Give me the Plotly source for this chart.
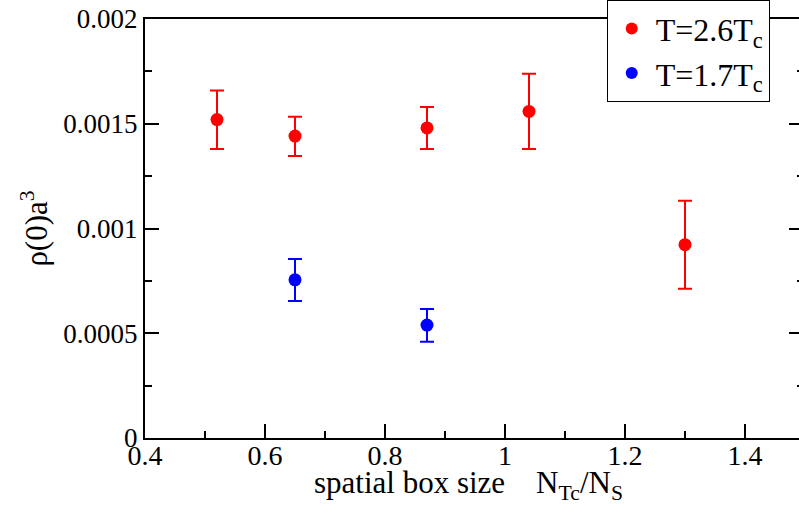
import plotly.graph_objects as go

# data
red_x = [0.52, 0.65, 0.87, 1.04, 1.30]
red_y = [0.001520, 0.001441, 0.001480, 0.001559, 0.000923]
red_err_plus = [0.000139, 0.000093, 0.000100, 0.000180, 0.000210]
red_err_minus = [0.000141, 0.000095, 0.000101, 0.000180, 0.000211]

blue_x = [0.65, 0.87]
blue_y = [0.000755, 0.000539]
blue_err_plus = [0.000100, 0.000077]
blue_err_minus = [0.000101, 0.000079]

x_ticks = [0.4, 0.6, 0.8, 1.0, 1.2, 1.4]
x_tick_labels = ["0.4", "0.6", "0.8", "1", "1.2", "1.4"]
y_ticks = [0, 0.0005, 0.001, 0.0015, 0.002]
y_tick_labels = ["0", "0.0005", "0.001", "0.0015", "0.002"]

x_title = "spatial box size    N<sub>Tc</sub>/N<sub>S</sub>"
y_title = "ρ(0)a<sup>3</sup>"

FONT = "Liberation Serif"

fig = go.Figure()
fig.add_trace(go.Scatter(
    x=red_x, y=red_y, mode="markers", name="T=2.6T<sub>c</sub>",
    marker=dict(color="#ff0000", size=13),
    error_y=dict(type="data", symmetric=False, array=red_err_plus,
                 arrayminus=red_err_minus, color="#ff0000", thickness=2, width=7),
))
fig.add_trace(go.Scatter(
    x=blue_x, y=blue_y, mode="markers", name="T=1.7T<sub>c</sub>",
    marker=dict(color="#0000ff", size=13),
    error_y=dict(type="data", symmetric=False, array=blue_err_plus,
                 arrayminus=blue_err_minus, color="#0000ff", thickness=2, width=7),
))
fig.add_trace(go.Scatter(x=[None], y=[None], yaxis="y2", showlegend=False, hoverinfo="skip"))

fig.update_layout(
    template="none",
    width=799, height=516,
    margin=dict(l=145, r=0, t=16, b=78),
    plot_bgcolor="white", paper_bgcolor="white",
    font=dict(family=FONT, color="black", size=27),
    showlegend=True,
    legend=dict(
        x=0.706, y=1.045, xanchor="left", yanchor="top",
        bgcolor="white", bordercolor="black", borderwidth=1,
        font=dict(family=FONT, size=32, color="black"),
        itemsizing="constant", tracegroupgap=0, itemwidth=38,
    ),
    xaxis=dict(
        range=[0.4, 1.49], tickmode="array", tickvals=x_ticks, ticktext=x_tick_labels,
        ticks="inside", ticklen=14, tickwidth=2, tickcolor="black",
        showline=True, linewidth=2, linecolor="black", mirror=True,
        showgrid=False, zeroline=False,
        tickfont=dict(family=FONT, size=28), ticklabelstandoff=-9,
        minor=dict(ticks="inside", ticklen=7, tickwidth=2, tickcolor="black", dtick=0.1, showgrid=False),
    ),
    yaxis=dict(
        range=[0, 0.002], tickmode="array", tickvals=y_ticks, ticktext=y_tick_labels,
        ticks="inside", ticklen=14, tickwidth=2, tickcolor="black",
        showline=True, linewidth=2, linecolor="black", mirror=False,
        showgrid=False, zeroline=False,
        tickfont=dict(family=FONT, size=27),
        minor=dict(ticks="inside", ticklen=7, tickwidth=2, tickcolor="black", dtick=0.00025, showgrid=False),
        title=dict(text=y_title, font=dict(family=FONT, size=31), standoff=6),
    ),
    yaxis2=dict(
        overlaying="y", side="right", matches="y", range=[0, 0.002],
        tickmode="array", tickvals=y_ticks, showticklabels=False,
        ticks="inside", ticklen=10, tickwidth=2, tickcolor="black",
        showline=False, showgrid=False, zeroline=False,
        minor=dict(ticks="inside", ticklen=2, tickwidth=2, tickcolor="black", dtick=0.00025, showgrid=False),
    ),
    annotations=[dict(
        text=x_title, xref="paper", yref="paper", x=0.495, y=-0.06,
        xanchor="center", yanchor="top", showarrow=False,
        font=dict(family=FONT, size=31, color="black"),
    )],
)

fig.write_html("out.html")
